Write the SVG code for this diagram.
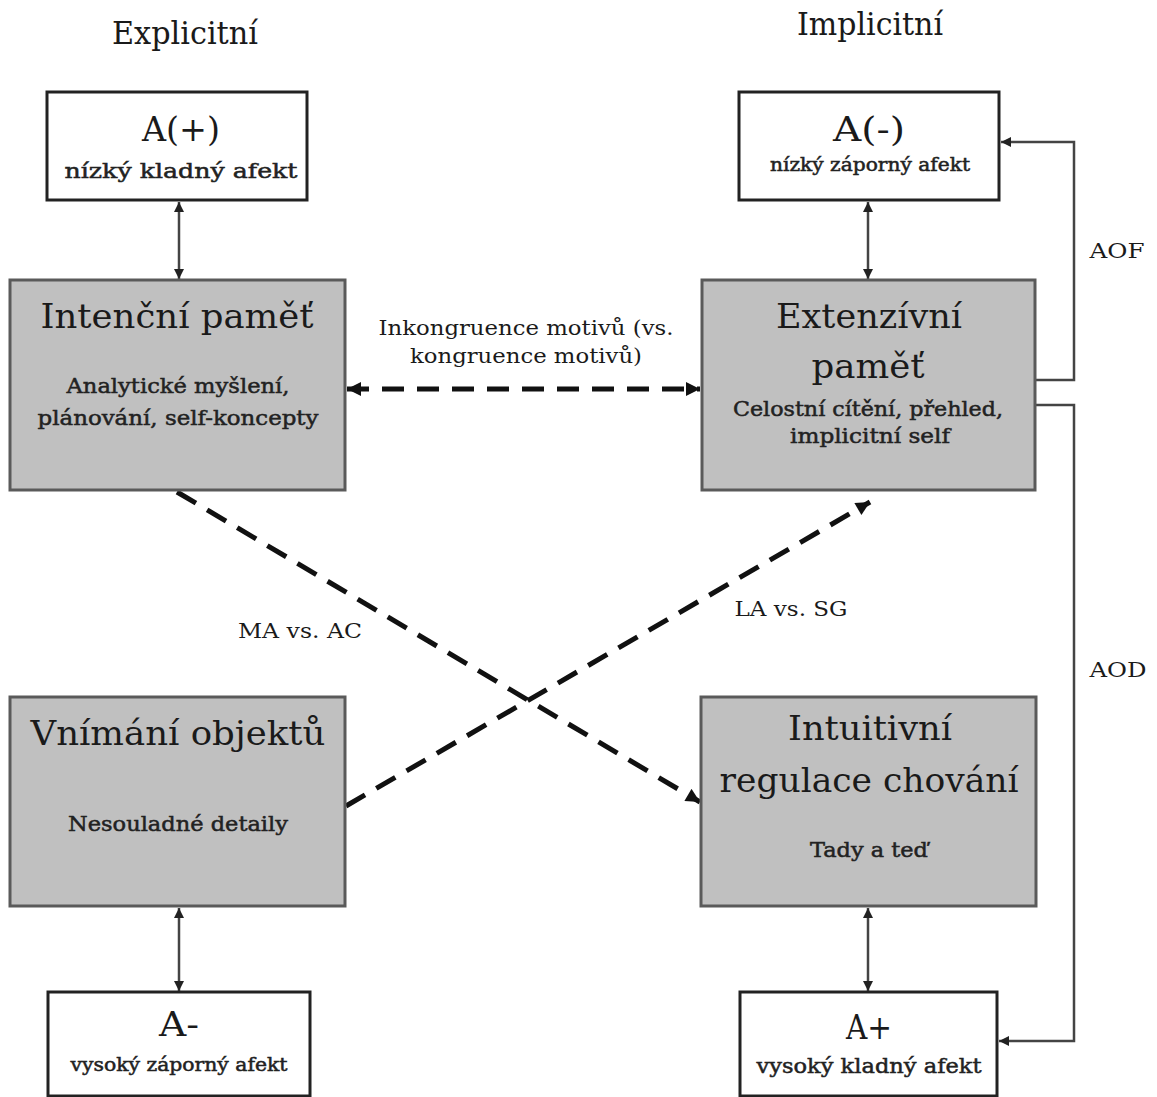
<svg xmlns="http://www.w3.org/2000/svg" width="1157" height="1097" viewBox="0 0 1157 1097">
<style>
text{font-family:"DejaVu Serif","Liberation Serif",serif;fill:#1a1a1a;text-anchor:middle}
.t{font-size:31px}
.h{font-size:34px}
.s{font-size:21px;fill:#222;stroke:#222;stroke-width:0.5}
.xs{font-size:18px;fill:#222;stroke:#222;stroke-width:0.5}
.lab{font-size:21px}
.gray{fill:#c0c0c0;stroke:#5a5a5a;stroke-width:3}
.white{fill:#fff;stroke:#222;stroke-width:3}
.solid{fill:none;stroke:#444;stroke-width:2.5}
.dash{fill:none;stroke:#111;stroke-width:5;stroke-dasharray:22 13}
</style>
<defs>
<marker id="sa" viewBox="0 0 10 10" refX="10" refY="5" markerWidth="11" markerHeight="10" markerUnits="userSpaceOnUse" orient="auto-start-reverse">
<path d="M0,0 L10,5 L0,10 z" fill="#222"/>
</marker>
<marker id="da" viewBox="0 0 10 10" refX="10" refY="5" markerWidth="16" markerHeight="14" markerUnits="userSpaceOnUse" orient="auto-start-reverse">
<path d="M0,0 L10,5 L0,10 z" fill="#111"/>
</marker>
</defs>
<rect width="1157" height="1097" fill="#fff"/>
<text class="t" x="185" y="44" textLength="146" lengthAdjust="spacingAndGlyphs">Explicitní</text>
<text class="t" x="870" y="35" textLength="146" lengthAdjust="spacingAndGlyphs">Implicitní</text>
<g id="connectors">
<line class="solid" x1="179" y1="202" x2="179" y2="279" marker-start="url(#sa)" marker-end="url(#sa)"/>
<line class="solid" x1="868" y1="202" x2="868" y2="279" marker-start="url(#sa)" marker-end="url(#sa)"/>
<line class="solid" x1="179" y1="908" x2="179" y2="991" marker-start="url(#sa)" marker-end="url(#sa)"/>
<line class="solid" x1="868" y1="908" x2="868" y2="991" marker-start="url(#sa)" marker-end="url(#sa)"/>
<path class="solid" d="M1036,380 H1074 V142 H1001" marker-end="url(#sa)"/>
<path class="solid" d="M1036,405 H1074 V1041 H999" marker-end="url(#sa)"/>
<line class="dash" x1="347" y1="389" x2="700" y2="389" marker-start="url(#da)" marker-end="url(#da)"/>
<line class="dash" x1="177" y1="492" x2="700" y2="802" marker-end="url(#da)"/>
<line class="dash" x1="346" y1="806" x2="870" y2="502" marker-end="url(#da)"/>
<text class="lab" x="526" y="335" textLength="295" lengthAdjust="spacingAndGlyphs">Inkongruence motivů (vs.</text>
<text class="lab" x="526" y="363" textLength="232" lengthAdjust="spacingAndGlyphs">kongruence motivů)</text>
<text class="lab" x="300" y="638" textLength="124" lengthAdjust="spacingAndGlyphs">MA vs. AC</text>
<text class="lab" x="791" y="616" textLength="113" lengthAdjust="spacingAndGlyphs">LA vs. SG</text>
<text class="lab" x="1117" y="258" textLength="55" lengthAdjust="spacingAndGlyphs">AOF</text>
<text class="lab" x="1118" y="677" textLength="57" lengthAdjust="spacingAndGlyphs">AOD</text>
</g>
<g id="a-plus-low">
<rect class="white" x="47" y="92" width="260" height="108"/>
<text class="h" x="181" y="141" textLength="78" lengthAdjust="spacingAndGlyphs">A(+)</text>
<text class="s" x="181" y="178" textLength="233" lengthAdjust="spacingAndGlyphs">nízký kladný afekt</text>
</g>
<g id="a-minus-low">
<rect class="white" x="739" y="92" width="260" height="108"/>
<text class="h" x="869" y="141" textLength="72" lengthAdjust="spacingAndGlyphs">A(-)</text>
<text class="xs" x="870" y="171" textLength="200" lengthAdjust="spacingAndGlyphs">nízký záporný afekt</text>
</g>
<g id="intencni">
<rect class="gray" x="10" y="280" width="335" height="210"/>
<text class="h" x="177" y="328" textLength="273" lengthAdjust="spacingAndGlyphs">Intenční paměť</text>
<text class="s" x="178" y="393" textLength="223" lengthAdjust="spacingAndGlyphs">Analytické myšlení,</text>
<text class="s" x="178" y="425" textLength="281" lengthAdjust="spacingAndGlyphs">plánování, self-koncepty</text>
</g>
<g id="extenzivni">
<rect class="gray" x="702" y="280" width="333" height="210"/>
<text class="h" x="869" y="328" textLength="186" lengthAdjust="spacingAndGlyphs">Extenzívní</text>
<text class="h" x="868" y="378" textLength="113" lengthAdjust="spacingAndGlyphs">paměť</text>
<text class="s" x="868" y="416" textLength="270" lengthAdjust="spacingAndGlyphs">Celostní cítění, přehled,</text>
<text class="s" x="870" y="443" textLength="160" lengthAdjust="spacingAndGlyphs">implicitní self</text>
</g>
<g id="vnimani">
<rect class="gray" x="10" y="697" width="335" height="209"/>
<text class="h" x="178" y="745" textLength="295" lengthAdjust="spacingAndGlyphs">Vnímání objektů</text>
<text class="s" x="178" y="831" textLength="220" lengthAdjust="spacingAndGlyphs">Nesouladné detaily</text>
</g>
<g id="intuitivni">
<rect class="gray" x="701" y="697" width="335" height="209"/>
<text class="h" x="870" y="740" textLength="164" lengthAdjust="spacingAndGlyphs">Intuitivní</text>
<text class="h" x="869" y="792" textLength="299" lengthAdjust="spacingAndGlyphs">regulace chování</text>
<text class="s" x="869" y="857" textLength="118" lengthAdjust="spacingAndGlyphs">Tady a teď</text>
</g>
<g id="a-minus-high">
<rect class="white" x="48" y="992" width="262" height="104"/>
<text class="h" x="179" y="1036" textLength="40" lengthAdjust="spacingAndGlyphs">A-</text>
<text class="xs" x="179" y="1071" textLength="217" lengthAdjust="spacingAndGlyphs">vysoký záporný afekt</text>
</g>
<g id="a-plus-high">
<rect class="white" x="740" y="992" width="257" height="104"/>
<text class="h" x="869" y="1039" textLength="46" lengthAdjust="spacingAndGlyphs">A+</text>
<text class="s" x="869" y="1073" textLength="225" lengthAdjust="spacingAndGlyphs">vysoký kladný afekt</text>
</g>
</svg>
